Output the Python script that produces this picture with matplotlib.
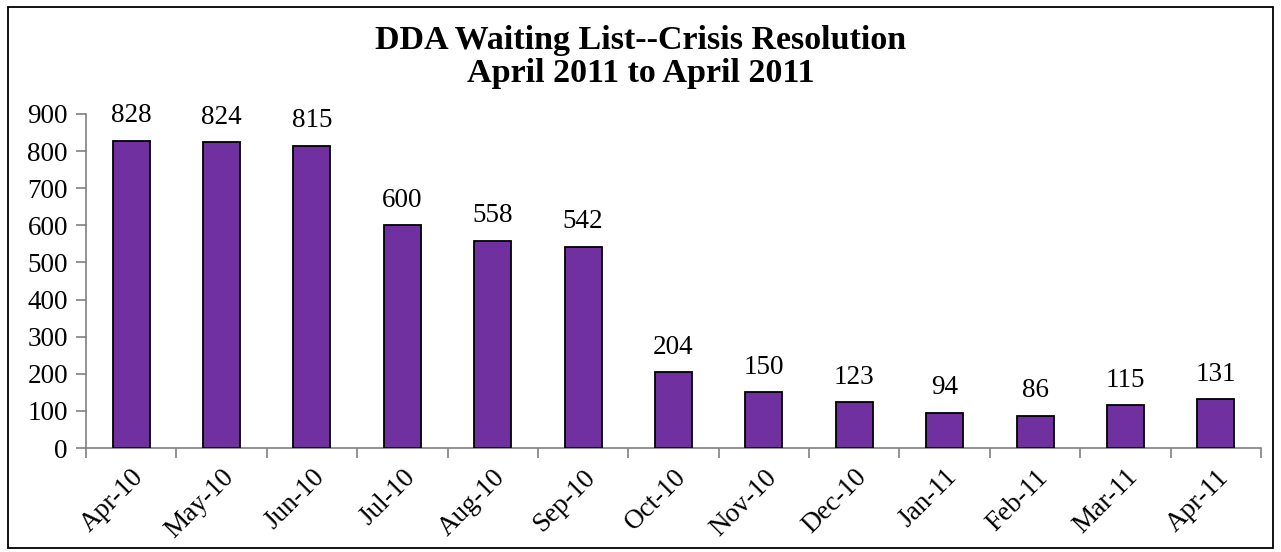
import matplotlib
matplotlib.use("Agg")
import matplotlib.pyplot as plt
from matplotlib.patches import Rectangle
import numpy as np

months = ["Apr-10", "May-10", "Jun-10", "Jul-10", "Aug-10", "Sep-10", "Oct-10",
          "Nov-10", "Dec-10", "Jan-11", "Feb-11", "Mar-11", "Apr-11"]
values = [828, 824, 815, 600, 558, 542, 204, 150, 123, 94, 86, 115, 131]
yticks = [0, 100, 200, 300, 400, 500, 600, 700, 800, 900]
title = "DDA Waiting List--Crisis Resolution\nApril 2011 to April 2011"

plt.rcParams['font.family'] = ['Liberation Serif', 'DejaVu Serif']

fig = plt.figure(figsize=(12.81, 5.52), dpi=100)
ax = fig.add_axes([0.0671, 0.1884, 0.9173, 0.6051])

x = np.arange(len(months))
ax.bar(x, values, width=0.41, color="#7030A0", edgecolor="black", linewidth=1.3, zorder=3)
for xi, v in zip(x, values):
    ax.text(xi, v + 34, str(v), ha="center", va="bottom", fontsize=19.5)

ax.set_xlim(-0.5, len(months) - 0.5)
ax.set_ylim(0, 900)
ax.set_yticks(yticks)
ax.set_yticklabels([str(t) for t in yticks], fontsize=19.5)
ax.set_xticks(x)
ax.set_xticklabels(months, rotation=45, ha="right", rotation_mode="anchor", fontsize=19.5)
ax.set_xticks(np.arange(len(months) + 1) - 0.5, minor=True)
ax.tick_params(axis="x", which="major", length=0, pad=12)
ax.tick_params(axis="x", which="minor", length=7, color="#808080", width=1.2)
ax.tick_params(axis="y", length=7, color="#808080", width=1.2, pad=6)

for s in ["top", "right"]:
    ax.spines[s].set_visible(False)
for s in ["left", "bottom"]:
    ax.spines[s].set_color("#808080")
    ax.spines[s].set_linewidth(1.2)

fig.suptitle(title, fontsize=24.5, fontweight="bold", y=0.955, va="top", linespacing=1.1)

fig.patches.append(Rectangle((0.006, 0.008), 0.988, 0.98, transform=fig.transFigure,
                             fill=False, edgecolor="black", linewidth=1.3))

fig.savefig("out.png", dpi=100)
